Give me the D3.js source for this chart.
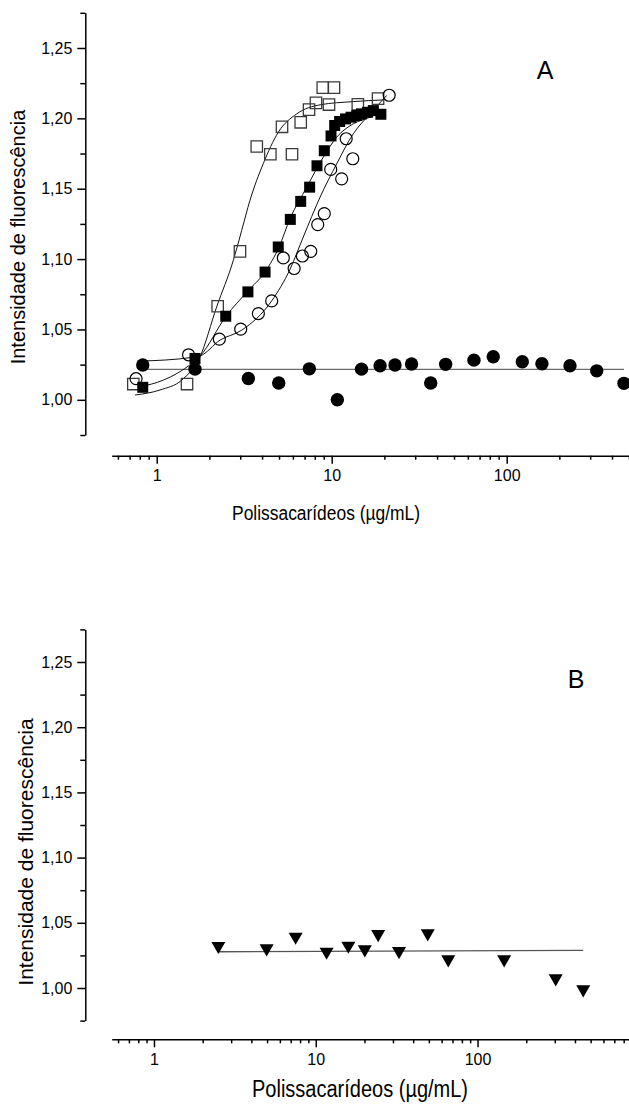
<!DOCTYPE html>
<html lang="pt">
<head>
    <meta charset="UTF-8">
    <title>Intensidade de fluorescência</title>
    <script src="https://cdn.jsdelivr.net/npm/d3@7/dist/d3.min.js"></script>
    <style>
        body { margin: 0; background: #fff; }
        text { font-family: "Liberation Sans", Arial, sans-serif; fill: #000; }
    </style>
</head>
<body>
<svg id="chart" width="629" height="1104"></svg>
<script>
    // tick labels
    const majorY = [1.00, 1.05, 1.10, 1.15, 1.20, 1.25];
    const minorY = [0.975, 1.025, 1.075, 1.125, 1.175, 1.225, 1.275];
    const majorX = [1, 10, 100];

    // panel A - open squares
    const openSqX = [0.735, 1.49, 2.23, 2.99, 3.73, 4.46, 5.93, 5.20, 6.65, 7.42, 8.13, 8.89, 10.3, 9.65, 14.1, 18.4];
    const openSqY = [1.0112, 1.0112, 1.0665, 1.1055, 1.180, 1.1745, 1.1745, 1.194, 1.1972, 1.2062, 1.211, 1.2218, 1.2218, 1.2098, 1.210, 1.2140];
    // panel A - filled squares
    const fillSqX = [0.832, 1.655, 2.48, 3.32, 4.16, 4.95, 5.80, 6.65, 7.48, 8.24, 9.07, 9.91, 10.4, 11.1, 12.0, 12.9, 13.9, 14.8, 16.0, 17.3, 19.1];
    const fillSqY = [1.0089, 1.0294, 1.0594, 1.0767, 1.0908, 1.1086, 1.1282, 1.141, 1.1511, 1.1663, 1.177, 1.1875, 1.1949, 1.1978, 1.1996, 1.2008, 1.202, 1.2032, 1.2043, 1.2055, 1.2029];
    // panel A - open circles
    const openCiX = [0.762, 1.52, 2.28, 3.02, 3.81, 4.54, 5.29, 6.10, 6.80, 7.59, 8.32, 9.07, 9.87, 11.4, 12.1, 13.2, 21.3];
    const openCiY = [1.015, 1.032, 1.0431, 1.0502, 1.0613, 1.0703, 1.1008, 1.0933, 1.1022, 1.1055, 1.1245, 1.1323, 1.1637, 1.1570, 1.1855, 1.1713, 1.2164];
    // panel A - filled circles
    const fillCiX = [0.832, 1.655, 3.34, 4.98, 7.45, 10.77, 14.8, 18.9, 23.0, 28.6, 36.8, 44.8, 65.0, 83.8, 122.8, 159, 230, 327, 468];
    const fillCiY = [1.0247, 1.0218, 1.0152, 1.0119, 1.022, 1.000, 1.0218, 1.0242, 1.0247, 1.0254, 1.0119, 1.0252, 1.0282, 1.0306, 1.027, 1.0256, 1.0242, 1.0206, 1.0117];

    // fitted curves
    const fitSqX = [0.751, 1.044, 1.389, 1.768, 2.20, 2.74, 3.06, 3.41, 4.06, 4.95, 6.31, 8.58, 13.28, 19.7];
    const fitSqY = [1.0034, 1.0070, 1.0140, 1.0306, 1.066, 1.0991, 1.1204, 1.1417, 1.1677, 1.1901, 1.2032, 1.2096, 1.2119, 1.2131];
    const fitFsqX = [0.803, 1.091, 1.585, 1.768, 2.49, 3.31, 4.16, 5.00, 5.78, 7.20, 8.95, 10.68, 13.28, 16.55, 19.7];
    const fitFsqY = [1.0093, 1.0140, 1.0259, 1.0311, 1.0594, 1.0772, 1.0909, 1.1086, 1.1287, 1.1511, 1.1724, 1.1866, 1.1961, 1.2008, 1.2050];
    const fitOcX = [0.803, 1.585, 1.768, 2.30, 3.06, 4.54, 5.78, 6.88, 8.58, 10.68, 13.28, 16.55, 20.6];
    const fitOcY = [1.0275, 1.0301, 1.0311, 1.0424, 1.0495, 1.0703, 1.0928, 1.1157, 1.1440, 1.1677, 1.1890, 1.2032, 1.2162];
    const fitCiX = [0.832, 468];
    const fitCiY = [1.0216, 1.0216];

    // panel B - triangles
    const triX = [2.50, 4.97, 7.51, 11.67, 15.9, 20.1, 24.3, 32.7, 49.2, 65.9, 146, 304, 450];
    const triY = [1.0322, 1.0304, 1.0393, 1.0278, 1.0324, 1.0296, 1.0413, 1.0283, 1.0419, 1.022, 1.022, 1.0074, 0.999];
    const fitTriX = [2.50, 450];
    const fitTriY = [1.0278, 1.0289];

    const svg = d3.select("#chart");
    const zip = (xs, ys) => xs.map((d, i) => [d, ys[i]]);
    const fmtY = d => d3.format(".2f")(d).replace(".", ",");

    const xA = d3.scaleLog().domain([0.553, 500]).range([111.7, 629]);
    const yA = d3.scaleLinear().domain([0.975, 1.275]).range([435, 12.8]);
    const xB = d3.scaleLog().domain([0.548, 863]).range([111.7, 629]);
    const yB = d3.scaleLinear().domain([0.975, 1.275]).range([1020.6, 629.4]);

    function axes(x, y, xAxisAt, yAxisAt) {
        let minorX = x.ticks().filter(d => !majorX.some(m => Math.abs(m - d) < 1e-9));
        let gx = svg.append("g").attr("transform", `translate(0,${xAxisAt})`)
            .call(d3.axisBottom(x).tickValues(majorX).tickSize(8).tickSizeOuter(0).tickPadding(6).tickFormat(d3.format("d")));
        svg.append("g").attr("transform", `translate(0,${xAxisAt})`)
            .call(d3.axisBottom(x).tickValues(minorX).tickSize(4).tickFormat(""))
            .call(g => g.select(".domain").remove());
        let gy = svg.append("g").attr("transform", `translate(${yAxisAt},0)`)
            .call(d3.axisLeft(y).tickValues(majorY).tickSize(8).tickSizeOuter(0).tickPadding(5).tickFormat(fmtY));
        svg.append("g").attr("transform", `translate(${yAxisAt},0)`)
            .call(d3.axisLeft(y).tickValues(minorY).tickSize(5).tickFormat(""))
            .call(g => g.select(".domain").remove());
        svg.selectAll(".domain, .tick line").attr("stroke", "#000").attr("stroke-width", 1.5);
        gx.selectAll("text").style("font-size", "16px");
        gy.selectAll("text").style("font-size", "16px");
    }

    function curve(x, y, xs, ys, color, width) {
        let line = d3.line().x(d => x(d[0])).y(d => y(d[1])).curve(d3.curveMonotoneX);
        svg.append("path").datum(zip(xs, ys))
            .attr("d", line).attr("fill", "none")
            .attr("stroke", color).attr("stroke-width", width);
    }

    // ---- panel A
    axes(xA, yA, 455.7, 85.3);

    curve(xA, yA, fitCiX, fitCiY, "#6b6b6b", 1.4);
    curve(xA, yA, fitSqX, fitSqY, "#111", 1);
    curve(xA, yA, fitFsqX, fitFsqY, "#111", 1);
    curve(xA, yA, fitOcX, fitOcY, "#111", 1);

    svg.append("g").selectAll("circle").data(zip(fillCiX, fillCiY)).join("circle")
        .attr("cx", d => xA(d[0])).attr("cy", d => yA(d[1])).attr("r", 6.7).attr("fill", "#000");

    svg.append("g").selectAll("path").data(zip(openSqX, openSqY)).join("path")
        .attr("transform", d => `translate(${xA(d[0])},${yA(d[1])})`)
        .attr("d", d3.symbol(d3.symbolSquare, 130))
        .attr("fill", "none").attr("stroke", "#3a3a3a").attr("stroke-width", 1.3);

    svg.append("g").selectAll("circle").data(zip(openCiX, openCiY)).join("circle")
        .attr("cx", d => xA(d[0])).attr("cy", d => yA(d[1])).attr("r", 6)
        .attr("fill", "none").attr("stroke", "#000").attr("stroke-width", 1.2);

    svg.append("g").selectAll("path").data(zip(fillSqX, fillSqY)).join("path")
        .attr("transform", d => `translate(${xA(d[0])},${yA(d[1])})`)
        .attr("d", d3.symbol(d3.symbolSquare, 121))
        .attr("fill", "#000");

    svg.append("text").attr("x", 545).attr("y", 79).attr("text-anchor", "middle")
        .style("font-size", "25px").text("A");
    svg.append("text").attr("transform", "translate(326,520) scale(0.87,1)")
        .attr("text-anchor", "middle").style("font-size", "20px").text("Polissacarídeos (µg/mL)");
    svg.append("text").attr("transform", "translate(25,237) rotate(-90)")
        .attr("text-anchor", "middle").style("font-size", "20px").text("Intensidade de fluorescência");

    // ---- panel B
    axes(xB, yB, 1039.3, 85.3);

    curve(xB, yB, fitTriX, fitTriY, "#555", 1.3);

    svg.append("g").selectAll("path").data(zip(triX, triY)).join("path")
        .attr("transform", d => `translate(${xB(d[0])},${yB(d[1])}) rotate(180)`)
        .attr("d", d3.symbol(d3.symbolTriangle, 85))
        .attr("fill", "#000");

    svg.append("text").attr("x", 576).attr("y", 688).attr("text-anchor", "middle")
        .style("font-size", "25px").text("B");
    svg.append("text").attr("transform", "translate(360,1097) scale(0.87,1)")
        .attr("text-anchor", "middle").style("font-size", "23px").text("Polissacarídeos (µg/mL)");
    svg.append("text").attr("transform", "translate(33,852) rotate(-90)")
        .attr("text-anchor", "middle").style("font-size", "21px").text("Intensidade de fluorescência");
</script>
</body>
</html>
